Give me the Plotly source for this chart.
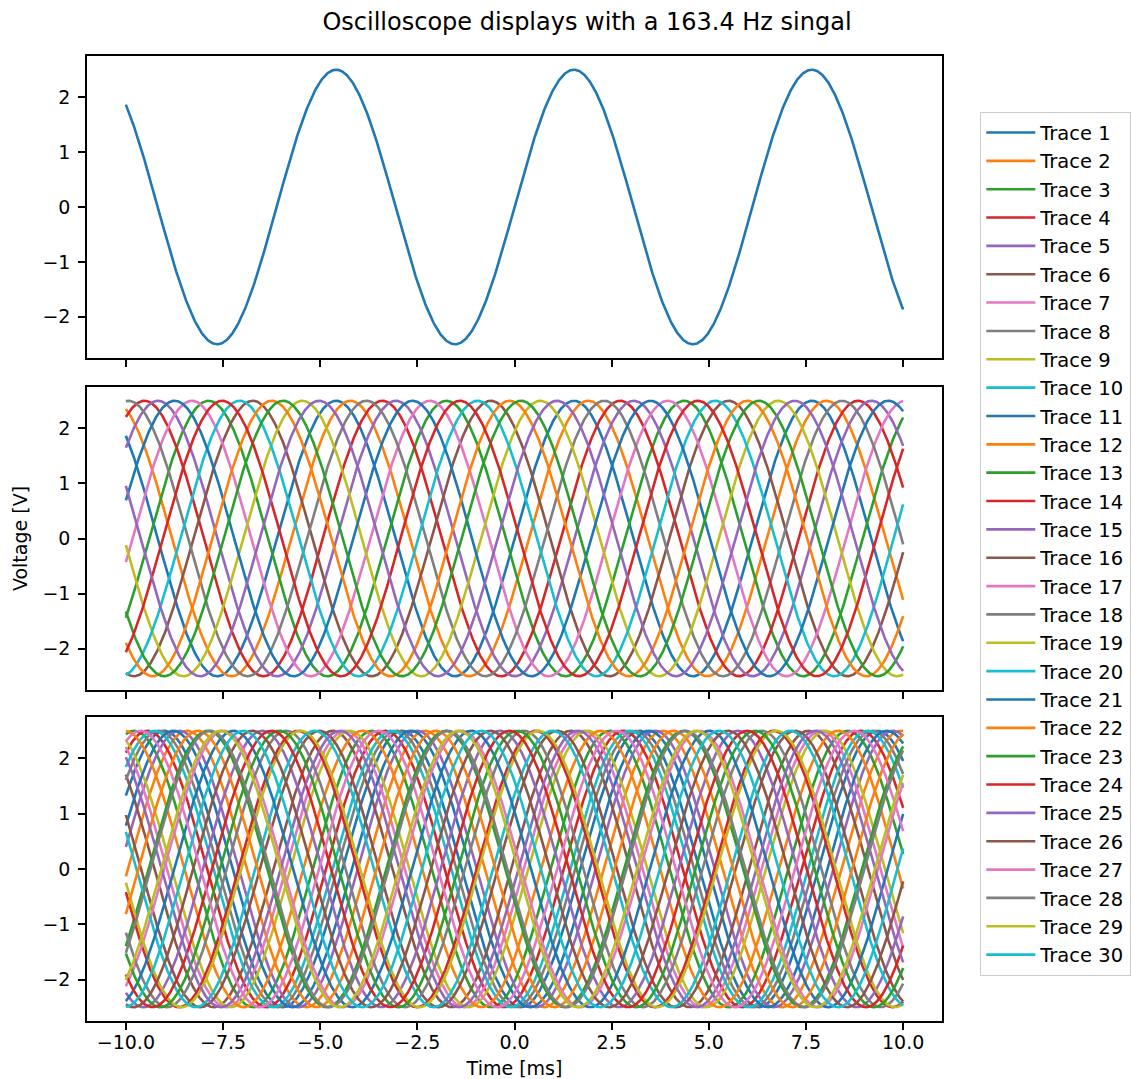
import numpy as np
import plotly.graph_objects as go
from plotly.subplots import make_subplots

# ---------------- data ----------------
signal_freq_hz = 163.4          # from the title
amplitude_v = 2.5               # peak voltage of every trace
t_start_ms = -10.0
t_end_ms = 10.0

trace_names = [f"Trace {i}" for i in range(1, 31)]

# phase (rad) of each trace at the left edge of the window (t = -10 ms)
top_start_phase = [2.30]
mid_start_phase = [2.30, 1.92, 5.67, 1.08, 0.72, 4.50, 6.11, 1.50,
                   3.19, 4.85, 0.28, 4.00, 3.70, 5.31, 2.75]
low_start_phase = [0.56, 6.23, 1.35, 1.00, 0.16, 2.39, 2.06, 0.70, 1.94, 0.83,
                   0.32, 1.60, 5.69, 3.31, 4.25, 2.74, 5.27, 3.62, 3.24, 2.87,
                   5.01, 5.95, 3.80, 4.01, 2.20, 4.51, 1.18, 5.63, 5.35, 4.75]

x_tick_vals = [-10.0, -7.5, -5.0, -2.5, 0.0, 2.5, 5.0, 7.5, 10.0]
y_tick_vals = [-2, -1, 0, 1, 2]

colors = ["#1f77b4", "#ff7f0e", "#2ca02c", "#d62728", "#9467bd",
          "#8c564b", "#e377c2", "#7f7f7f", "#bcbd22", "#17becf"]

# ---------------- figure ----------------
t = np.linspace(t_start_ms, t_end_ms, 1200)
omega = 2 * np.pi * signal_freq_hz / 1000.0   # rad per ms


def wave(phase):
    return amplitude_v * np.sin(omega * (t - t_start_ms) + phase)


fig = make_subplots(rows=3, cols=1, shared_xaxes=True)

LW = 2.6
for i, ph in enumerate(top_start_phase):
    fig.add_trace(go.Scatter(x=t, y=wave(ph), mode="lines", name=trace_names[i],
                             line=dict(color=colors[i % 10], width=LW),
                             showlegend=False, hoverinfo="skip"), row=1, col=1)
for i, ph in enumerate(mid_start_phase):
    fig.add_trace(go.Scatter(x=t, y=wave(ph), mode="lines", name=trace_names[i],
                             line=dict(color=colors[i % 10], width=LW),
                             showlegend=False, hoverinfo="skip"), row=2, col=1)
for i, ph in enumerate(low_start_phase):
    fig.add_trace(go.Scatter(x=t, y=wave(ph), mode="lines", name=trace_names[i],
                             line=dict(color=colors[i % 10], width=LW),
                             showlegend=True, hoverinfo="skip"), row=3, col=1)

# page body margin is removed below, so figure coords = screen coords
W, H = 1131, 1079
L, R, T, B = 87, 942, 56, 1021
ph = B - T


def dom(top_px, bot_px):
    return [(B - bot_px) / ph, (B - top_px) / ph]


FONT = "DejaVu Sans"
axis_common = dict(showline=True, linecolor="black", linewidth=1.5, mirror=True,
                   ticks="outside", ticklen=7, tickwidth=1.5, tickcolor="black",
                   showgrid=False, zeroline=False, automargin=False,
                   tickfont=dict(family=FONT, size=19, color="black"))

fig.update_xaxes(range=[-11, 11], tickvals=x_tick_vals, tickformat=".1f",
                 ticklabelstandoff=-4, **axis_common)
fig.update_yaxes(range=[-2.75, 2.75], tickvals=y_tick_vals,
                 ticklabelstandoff=4, **axis_common)

fig.update_layout(
    yaxis=dict(domain=dom(56, 358)),
    yaxis2=dict(domain=dom(387, 690),
                title=dict(text="Voltage [V]", standoff=10,
                           font=dict(family=FONT, size=19, color="black"))),
    yaxis3=dict(domain=dom(717, 1021)),
    xaxis=dict(showticklabels=False),
    xaxis2=dict(showticklabels=False),
    xaxis3=dict(title=dict(text="Time [ms]", standoff=12,
                           font=dict(family=FONT, size=19, color="black"))),
)

fig.update_layout(
    width=W, height=H,
    margin=dict(l=L, r=W - R, t=T, b=H - B, pad=0, autoexpand=False),
    paper_bgcolor="white", plot_bgcolor="white",
    font=dict(family=FONT, size=19, color="black"),
    title=dict(text="Oscilloscope displays with a 163.4 Hz singal",
               x=587 / W, xanchor="center", y=1 - 22 / H, yanchor="middle",
               font=dict(family=FONT, size=24, color="black")),
    legend=dict(x=(980 - L) / (R - L), y=(B - 112) / ph,
                xanchor="left", yanchor="top",
                bordercolor="#cccccc", borderwidth=1.3, bgcolor="white",
                font=dict(family=FONT, size=19.5, color="black"),
                itemwidth=49, tracegroupgap=0),
    showlegend=True,
)

fig.write_html("out.html",
               config={"displayModeBar": False},
               post_script="document.body.style.margin='0px';"
                           "document.body.style.overflow='hidden';")
